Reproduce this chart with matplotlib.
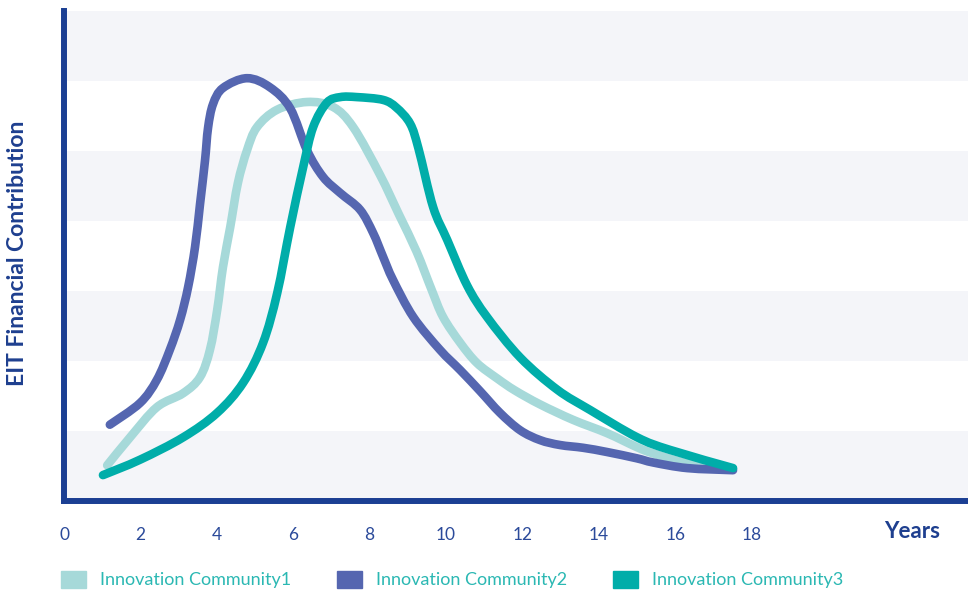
import numpy as np
import matplotlib.pyplot as plt
from matplotlib.patches import Rectangle, PathPatch
from matplotlib.path import Path

# values (x in years, y in band units 0..7)
ic1_x = [1.13, 1.73, 2.43, 3.12, 3.56, 3.82, 4.01, 4.16, 4.35, 4.55, 4.79, 5.05, 5.58, 6.36,
         7.04, 7.57, 8.27, 8.76, 9.23, 9.62, 9.92, 10.37, 10.81, 11.34, 11.80, 12.46, 13.32,
         14.21, 14.99, 15.42, 16.31, 17.51]
ic1_y = [0.51, 0.91, 1.34, 1.54, 1.77, 2.16, 2.73, 3.34, 3.91, 4.54, 5.01, 5.34, 5.59, 5.70,
         5.63, 5.34, 4.66, 4.10, 3.56, 3.02, 2.63, 2.26, 1.97, 1.75, 1.58, 1.38, 1.16,
         0.97, 0.77, 0.68, 0.54, 0.46]

ic2_x = [1.20, 1.99, 2.43, 2.77, 3.04, 3.25, 3.43, 3.56, 3.69, 3.77, 3.90, 4.16, 4.79, 5.39,
         5.92, 6.36, 6.78, 7.23, 7.75, 8.09, 8.35, 8.61, 9.14, 9.84, 10.37, 10.89,
         11.41, 11.94, 12.46, 12.98, 13.59, 14.21, 14.99, 15.42, 16.31, 17.51]
ic2_y = [1.09, 1.40, 1.73, 2.16, 2.59, 3.06, 3.63, 4.24, 4.86, 5.33, 5.67, 5.90, 6.04, 5.91,
         5.61, 5.01, 4.63, 4.40, 4.16, 3.83, 3.49, 3.16, 2.63, 2.16, 1.87, 1.57,
         1.26, 1.01, 0.87, 0.80, 0.76, 0.70, 0.61, 0.55, 0.47, 0.44]

ic3_x = [1.02, 1.99, 3.12, 4.01, 4.69, 5.21, 5.58, 5.92, 6.26, 6.52, 6.88, 7.23, 7.67, 8.35,
         8.70, 9.06, 9.28, 9.66, 10.03, 10.55, 11.07, 11.94, 12.91, 13.77, 15.00,
         15.86, 17.51]
ic3_y = [0.37, 0.59, 0.91, 1.26, 1.69, 2.26, 2.97, 3.91, 4.77, 5.34, 5.69, 5.77, 5.77, 5.73,
         5.62, 5.39, 5.03, 4.20, 3.73, 3.08, 2.63, 2.05, 1.59, 1.30, 0.91,
         0.73, 0.47]

xticks = [0, 2, 4, 6, 8, 10, 12, 14, 16, 18]
names = ['Innovation Community1', 'Innovation Community2', 'Innovation Community3']
colors = ['#A6D9D9', '#5566B0', '#00ADA9']

navy = '#1B3F93'
plt.rcParams['font.family'] = ['Lato', 'DejaVu Sans']


def smoothPath(xs, ys):
	# cubic bezier segments through the points (catmull-rom tangents)
	p = np.column_stack([xs, ys])
	n = len(p)
	verts = [p[0]]
	codes = [Path.MOVETO]
	for i in range(n - 1):
		p0 = p[i - 1] if i > 0 else p[i]
		p3 = p[i + 2] if i + 2 < n else p[i + 1]
		c1 = p[i] + (p[i + 1] - p0) / 6.0
		c2 = p[i + 1] - (p3 - p[i]) / 6.0
		verts += [c1, c2, p[i + 1]]
		codes += [Path.CURVE4] * 3
	return Path(verts, codes)


fig = plt.figure(figsize=(9.68, 5.91), dpi=100)
ax = fig.add_axes([64/968, 90/591, 904/968, 490/591])

for i in range(0, 7, 2):
	ax.axhspan(i, i+1, color='#F4F5F9', lw=0, zorder=0)

series = [(ic1_x, ic1_y), (ic2_x, ic2_y), (ic3_x, ic3_y)]
for (xs, ys), c in zip(series, colors):
	patch = PathPatch(smoothPath(xs, ys), facecolor='none', edgecolor=c, lw=6.2,
		capstyle='round', joinstyle='round', zorder=2)
	ax.add_patch(patch)

ax.set_xlim(0, 23.66)
ax.set_ylim(0, 7)
ax.set_yticks([])
ax.set_xticks(xticks)
ax.set_xticklabels([str(t) for t in xticks], fontsize=12.5, color='#2B4A9A')
ax.tick_params(axis='x', length=0, pad=19)

for s in ['top', 'right']:
	ax.spines[s].set_visible(False)
for s in ['left', 'bottom']:
	ax.spines[s].set_color(navy)
	ax.spines[s].set_linewidth(4.3)

fig.text(940/968, 1 - 532/591, 'Years', ha='right', va='center', fontsize=16,
	fontweight='bold', color='#1E3F8F')
fig.text(18/968, 1 - 253/591, 'EIT Financial Contribution', rotation=90, ha='center',
	va='center', fontsize=16.5, fontweight='bold', color='#1E3F8F')

# legend drawn by hand along the bottom
box_x = [61, 337, 613]
for bx, c, n in zip(box_x, colors, names):
	fig.patches.append(Rectangle((bx/968, 1 - 588/591), 25/968, 17/591, color=c,
		transform=fig.transFigure, figure=fig))
	fig.text((bx + 39)/968, 1 - 580/591, n, ha='left', va='center', fontsize=13,
		color='#2BB8B3')

fig.savefig('out.png', dpi=100)
